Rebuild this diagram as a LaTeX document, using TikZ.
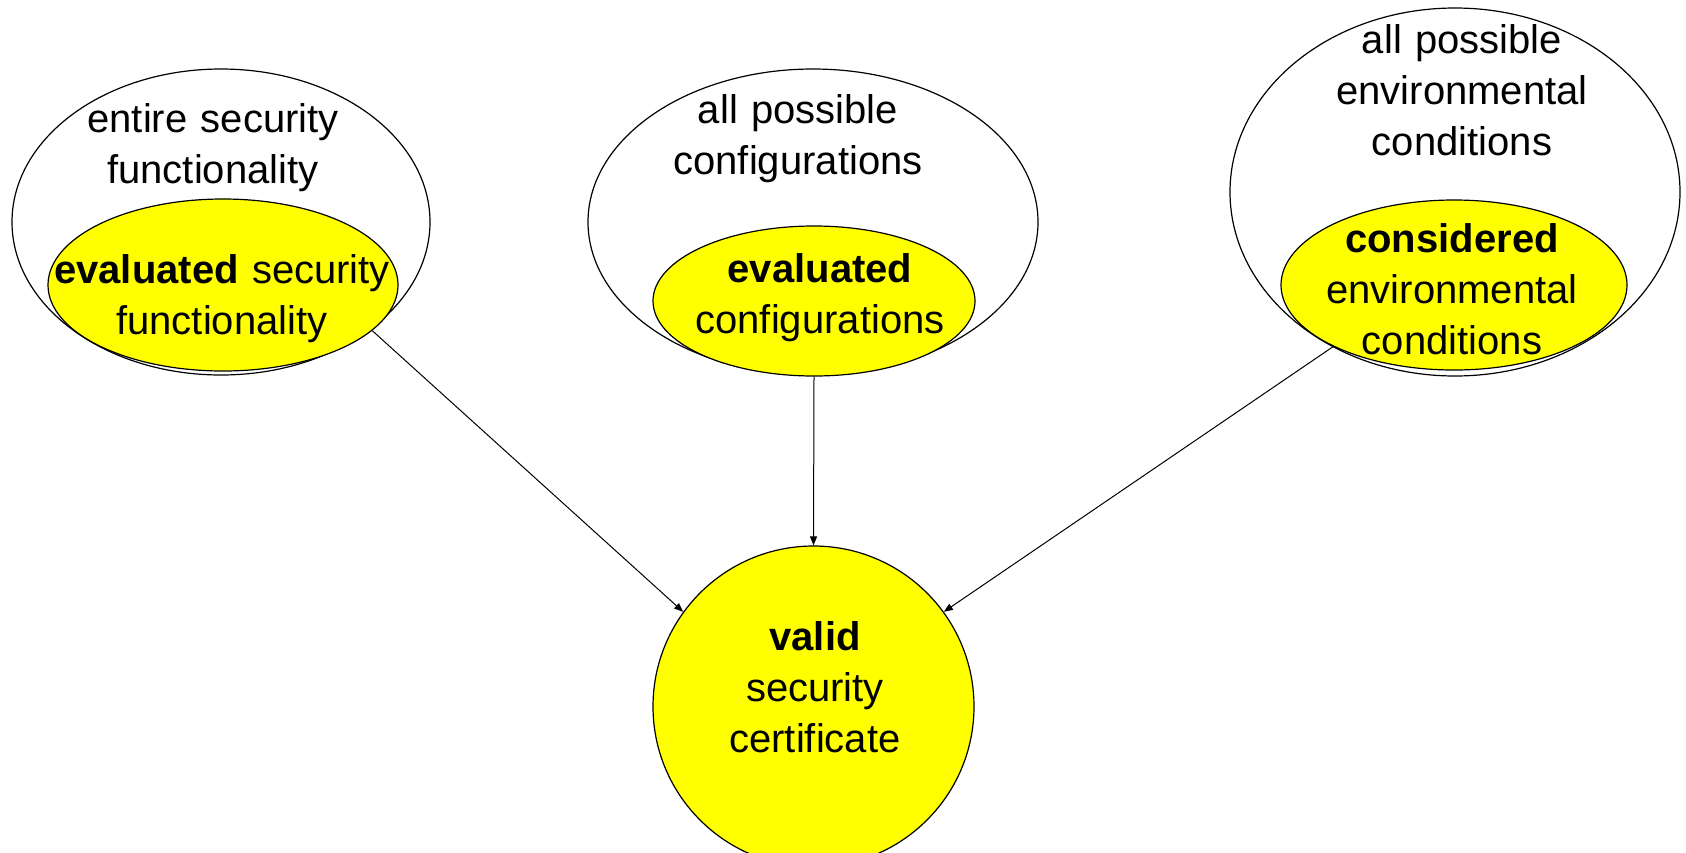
\documentclass[tikz,border=0pt]{standalone}
\usepackage{fontspec}
\setmainfont{Liberation Sans}
\usetikzlibrary{shapes.geometric,arrows.meta}
\definecolor{pureyellow}{RGB}{255,255,0}
\begin{document}
\begin{tikzpicture}[x=0.5pt,y=-0.5pt,
  setbox/.style={ellipse,draw,line width=0.6pt,inner sep=0pt,fill=white},
  subset/.style={ellipse,draw,line width=0.6pt,inner sep=0pt,fill=pureyellow},
  lbl/.style={anchor=base,inner sep=0pt,align=center,text width=#1,font=\fontsize{20}{25.5}\selectfont},
  lbl/.default=180pt,
  conn/.style={line width=0.5pt,-{Triangle[length=4.5pt,width=3.5pt]}}]
\useasboundingbox (0,0) rectangle (1686,852);
\clip (0,0) rectangle (1686,852);
% left group
\node[setbox,minimum width=209pt,minimum height=153pt] (outL) at (221,222) {};
\node[subset,minimum width=175pt,minimum height=86pt] (inL) at (223,285) {};
\node[lbl] (tOutL) at (213,132) {entire security\\functionality};
\node[lbl=200pt] (tInL) at (222,283) {\textbf{evaluated} security\\functionality};
% middle group
\node[setbox,minimum width=225pt,minimum height=153pt] (outM) at (813,222) {};
\node[subset,minimum width=161pt,minimum height=75pt] (inM) at (814,301) {};
\node[lbl] (tOutM) at (798,123) {all possible\\configurations};
\node[lbl] (tInM) at (820,282) {\textbf{evaluated}\\configurations};
% right group
\node[setbox,minimum width=225pt,minimum height=184pt] (outR) at (1455,192) {};
\node[subset,minimum width=173pt,minimum height=85pt] (inR) at (1454,285) {};
\node[lbl] (tOutR) at (1462,53) {all possible\\environmental\\conditions};
\node[lbl] (tInR) at (1452,252) {\textbf{considered}\\environmental\\conditions};
% certificate
\node[circle,draw,line width=0.6pt,fill=pureyellow,inner sep=0pt,minimum size=160.5pt] (cert) at (813.5,706.5) {};
\node[lbl] (tCert) at (815,650) {\textbf{valid}\\security\\certificate};
% connectors
\draw[conn] (inL.-17) -- (cert.144);
\draw[conn] (inM.south) -- (cert.north);
\draw[conn] (inR.207) -- (cert.36);
\end{tikzpicture}
\end{document}
